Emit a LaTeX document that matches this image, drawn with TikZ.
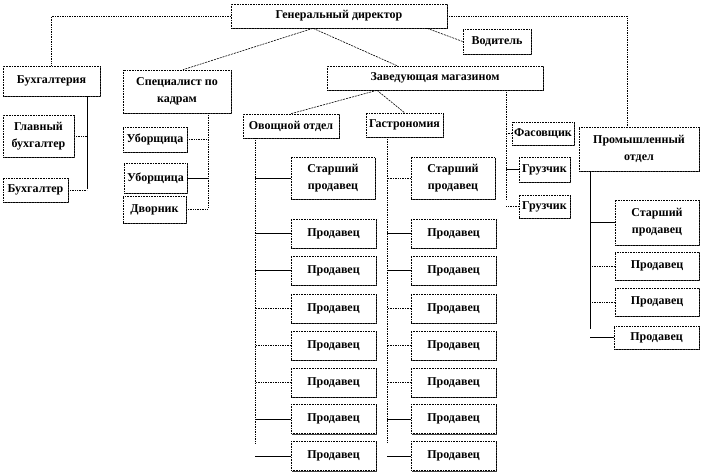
\documentclass[tikz,border=0pt]{standalone}
\usepackage{fontspec}
\setmainfont{Liberation Serif}
\usetikzlibrary{shadows}

\begin{document}
\begin{tikzpicture}[x=1pt,y=-1pt]
	\tikzstyle{unit} = [rectangle,draw=black,densely dotted,line width=0.6pt,fill=white,inner sep=0pt,align=center,font=\bfseries\fontsize{12}{17}\selectfont,drop shadow={shadow xshift=1pt,shadow yshift=-1pt,fill=black!75,opacity=1}]
	\tikzstyle{edge} = [-,draw=black,line width=0.7pt]
	\tikzstyle{edge2} = [-,draw=black,line width=0.7pt,densely dotted]
	\tikzstyle{edge3} = [-,draw=black,line width=0.6pt,dash pattern=on 2pt off 1pt]
	\useasboundingbox (0,0) rectangle (702,473);

	% management
	\node[unit,minimum width=216pt,minimum height=24pt] (gen) at (339,16) {Генеральный директор};
	\node[unit,minimum width=68pt,minimum height=25pt] (vod) at (497,41.5) {Водитель};
	\node[unit,minimum width=97pt,minimum height=30pt] (buh) at (51.5,81) {Бухгалтерия};
	\node[unit,minimum width=108pt,minimum height=43pt] (spec) at (177,91.5) {Специалист по\\кадрам};
	\node[unit,minimum width=216pt,minimum height=24pt] (zav) at (435,78) {Заведующая магазином};
	\node[unit,minimum width=120pt,minimum height=44pt] (prom) at (639,149) {Промышленный\\отдел};

	% accounting and staff
	\node[unit,minimum width=71pt,minimum height=42pt] (glav) at (38.5,136) {Главный\\бухгалтер};
	\node[unit,minimum width=65pt,minimum height=24pt] (bux) at (35.5,190) {Бухгалтер};
	\node[unit,minimum width=64pt,minimum height=25pt] (ub1) at (155,139.5) {Уборщица};
	\node[unit,minimum width=63pt,minimum height=30pt] (ub2) at (155.5,178) {Уборщица};
	\node[unit,minimum width=63pt,minimum height=27pt] (dvo) at (154.5,209.5) {Дворник};

	% departments
	\node[unit,minimum width=96pt,minimum height=24pt] (ovo) at (291,126) {Овощной отдел};
	\node[unit,minimum width=77pt,minimum height=24pt] (gas) at (404.5,125) {Гастрономия};
	\node[unit,minimum width=62pt,minimum height=23pt] (fas) at (543,133.5) {Фасовщик};
	\node[unit,minimum width=51pt,minimum height=25pt] (gr1) at (544.5,169.5) {Грузчик};
	\node[unit,minimum width=51pt,minimum height=23pt] (gr2) at (544.5,206.5) {Грузчик};

	% sellers
	\node[unit,minimum width=84pt,minimum height=42pt] (st1) at (333,178) {Старший\\продавец};
	\node[unit,minimum width=85pt,minimum height=29pt] (pa1) at (333.5,233.5) {Продавец};
	\node[unit,minimum width=85pt,minimum height=29pt] (pa2) at (333.5,270.5) {Продавец};
	\node[unit,minimum width=85pt,minimum height=29pt] (pa3) at (333.5,308.5) {Продавец};
	\node[unit,minimum width=85pt,minimum height=29pt] (pa4) at (333.5,345.5) {Продавец};
	\node[unit,minimum width=85pt,minimum height=29pt] (pa5) at (333.5,382.5) {Продавец};
	\node[unit,minimum width=85pt,minimum height=29pt] (pa6) at (333.5,419) {Продавец};
	\node[unit,minimum width=85pt,minimum height=29pt] (pa7) at (333.5,456) {Продавец};
	\node[unit,minimum width=84pt,minimum height=42pt] (st2) at (453,178) {Старший\\продавец};
	\node[unit,minimum width=85pt,minimum height=29pt] (pb1) at (453.5,233.5) {Продавец};
	\node[unit,minimum width=85pt,minimum height=29pt] (pb2) at (453.5,270.5) {Продавец};
	\node[unit,minimum width=85pt,minimum height=29pt] (pb3) at (453.5,308.5) {Продавец};
	\node[unit,minimum width=85pt,minimum height=29pt] (pb4) at (453.5,345.5) {Продавец};
	\node[unit,minimum width=85pt,minimum height=29pt] (pb5) at (453.5,382.5) {Продавец};
	\node[unit,minimum width=85pt,minimum height=29pt] (pb6) at (453.5,419) {Продавец};
	\node[unit,minimum width=85pt,minimum height=29pt] (pb7) at (453.5,456) {Продавец};
	\node[unit,minimum width=84pt,minimum height=45pt] (st3) at (657,222.5) {Старший\\продавец};
	\node[unit,minimum width=84pt,minimum height=28pt] (pc1) at (657,266) {Продавец};
	\node[unit,minimum width=84pt,minimum height=28pt] (pc2) at (657,302) {Продавец};
	\node[unit,minimum width=85pt,minimum height=23pt] (pc3) at (656.5,337.5) {Продавец};

	% bus ends
	\coordinate (bb) at (87,189);
	\coordinate (sb) at (208,208);
	\coordinate (ob) at (255,443);
	\coordinate (gb) at (387,443);
	\coordinate (zb) at (506,200);
	\coordinate (pb) at (590,329);

	\draw[edge2] (gen.west) -| (buh.north);
	\draw[edge2] (gen.east) -| ([xshift=-12pt]prom.north);
	\draw[edge3] ([xshift=-26pt]gen.south) -- ([xshift=6pt]spec.north);
	\draw[edge3] ([xshift=-26pt]gen.south) -- ([xshift=-38pt]zav.north);
	\draw[edge3] ([xshift=88pt]gen.south) -- (vod.west);
	\draw[edge3] ([xshift=-58pt]zav.south) -- (ovo.north);
	\draw[edge3] ([xshift=-58pt]zav.south) -- (gas.north);

	\draw[edge] (buh.south -| bb) -- (bb);
	\draw[edge2] (glav.east) -- (glav.east -| bb);
	\draw[edge2] (bux.east) -- (bux.east -| bb);

	\draw[edge2] (spec.south -| sb) -- (sb);
	\draw[edge2] (ub1.east) -- (ub1.east -| sb);
	\draw[edge] (ub2.east) -- (ub2.east -| sb);
	\draw[edge2] (dvo.east) -- (dvo.east -| sb);

	\draw[edge2] (ovo.south -| ob) -- (ob);
	\draw[edge] (st1.west) -- (st1.west -| ob);
	\draw[edge] (pa1.west) -- (pa1.west -| ob);
	\draw[edge] (pa2.west) -- (pa2.west -| ob);
	\draw[edge2] (pa3.west) -- (pa3.west -| ob);
	\draw[edge2] (pa4.west) -- (pa4.west -| ob);
	\draw[edge2] (pa5.west) -- (pa5.west -| ob);
	\draw[edge] (pa6.west) -- (pa6.west -| ob);
	\draw[edge] (pa7.west) -- (pa7.west -| ob);

	\draw[edge2] (gas.south -| gb) -- (gb);
	\draw[edge2] (st2.west) -- (st2.west -| gb);
	\draw[edge] (pb1.west) -- (pb1.west -| gb);
	\draw[edge] (pb2.west) -- (pb2.west -| gb);
	\draw[edge2] (pb3.west) -- (pb3.west -| gb);
	\draw[edge2] (pb4.west) -- (pb4.west -| gb);
	\draw[edge2] (pb5.west) -- (pb5.west -| gb);
	\draw[edge] (pb6.west) -- (pb6.west -| gb);
	\draw[edge] (pb7.west) -- (pb7.west -| gb);

	\draw[edge2] (zav.south -| zb) -- (zb);
	\draw[edge2] (fas.west) -- (fas.west -| zb);
	\draw[edge] (gr1.west) -- (gr1.west -| zb);
	\draw[edge2] (gr2.west) -- (gr2.west -| zb);

	\draw[edge] (prom.south -| pb) -- (pb);
	\draw[edge] (st3.west) -- (st3.west -| pb);
	\draw[edge2] (pc1.west) -- (pc1.west -| pb);
	\draw[edge2] (pc2.west) -- (pc2.west -| pb);
	\draw[edge] (pc3.west) -- (pc3.west -| pb);
\end{tikzpicture}
\end{document}
